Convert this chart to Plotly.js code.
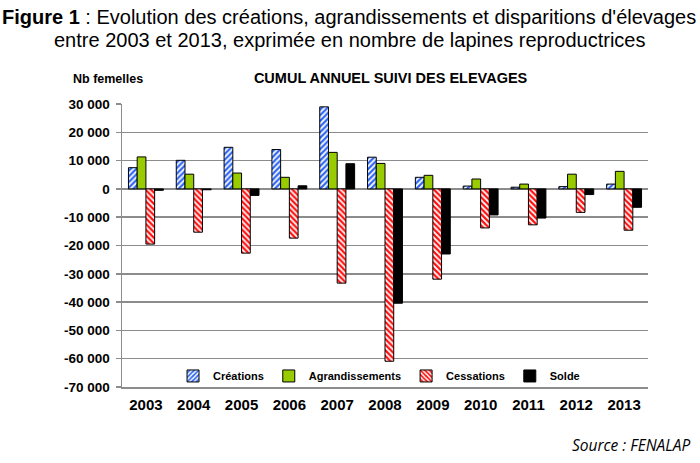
<!DOCTYPE html>
<html>
<head>
<meta charset="utf-8">
<script src="https://cdn.plot.ly/plotly-3.0.1.min.js"></script>
<style>
  html, body { margin: 0; padding: 0; background: #ffffff; }
  #chart { width: 700px; height: 463px; }
</style>
</head>
<body>
<div id="chart"></div>
<script>
// ---- Data ----
const years = ['2003', '2004', '2005', '2006', '2007', '2008', '2009', '2010', '2011', '2012', '2013'];
const creations        = [7500, 10100, 14700, 13900, 29000, 11200, 4100, 1000, 600, 800, 1700];
const agrandissements  = [11300, 5200, 5600, 4100, 12900, 9000, 4800, 3500, 1700, 5200, 6200];
const cessations       = [-19500, -15300, -22700, -17400, -33300, -60900, -31900, -13800, -12700, -8300, -14600];
const solde            = [-500, -300, -2300, 1100, 8900, -40400, -23000, -9200, -10300, -2000, -6500];

const seriesNames = ['Créations', 'Agrandissements', 'Cessations', 'Solde'];
const yTickVals  = [30000, 20000, 10000, 0, -10000, -20000, -30000, -40000, -50000, -60000, -70000];
const yTickText  = ['30 000', '20 000', '10 000', '0', '-10 000', '-20 000', '-30 000', '-40 000', '-50 000', '-60 000', '-70 000'];

const titleLine1 = '<b>Figure 1</b> : Evolution des créations, agrandissements et disparitions d\'élevages';
const titleLine2 = 'entre 2003 et 2013, exprimée en nombre de lapines reproductrices';
const chartTitle = 'CUMUL ANNUEL SUIVI DES ELEVAGES';
const yLabel = 'Nb femelles';
const sourceText = 'Source : FENALAP';

const FONT = 'Liberation Sans, Arial, Helvetica, sans-serif';
const outline = { color: '#000000', width: 1 };

const traces = [
  {
    type: 'bar', name: seriesNames[0], x: years, y: creations,
    marker: { color: '#ffffff', line: outline,
      pattern: { shape: '/', fgcolor: '#2f66f2', bgcolor: '#ffffff', size: 4, solidity: 0.55 } }
  },
  {
    type: 'bar', name: seriesNames[1], x: years, y: agrandissements,
    marker: { color: '#99cc00', line: outline }
  },
  {
    type: 'bar', name: seriesNames[2], x: years, y: cessations,
    marker: { color: '#ffffff', line: outline,
      pattern: { shape: '\\', fgcolor: '#ff0f0f', bgcolor: '#ffffff', size: 4, solidity: 0.55 } }
  },
  {
    type: 'bar', name: seriesNames[3], x: years, y: solde,
    marker: { color: '#000000', line: outline }
  }
];

const layout = {
  width: 700, height: 463,
  margin: { l: 122, r: 52, t: 104, b: 76 },
  paper_bgcolor: '#ffffff', plot_bgcolor: '#ffffff',
  font: { family: FONT, color: '#000000' },
  barmode: 'group', bargap: 0.27, bargroupgap: 0,
  showlegend: true,
  legend: {
    orientation: 'h', x: 0.097, xanchor: 'left', y: 0.039, yanchor: 'middle',
    bgcolor: 'rgba(0,0,0,0)', font: { family: FONT, size: 11, color: '#000', weight: 'bold' },
    traceorder: 'normal'
  },
  title: { text: '<b>' + chartTitle + '</b>', x: 0.558, xanchor: 'center', y: 1 - 78 / 463, yanchor: 'middle',
           font: { family: FONT, size: 14.5, color: '#000' } },
  xaxis: {
    type: 'category', showgrid: false, showline: true, linecolor: '#8c8c8c', linewidth: 1.5,
    ticks: '', tickfont: { family: FONT, size: 15, color: '#000', weight: 'bold' },
    ticklabelstandoff: 3, zeroline: false
  },
  yaxis: {
    range: [-70000, 30000], tickvals: yTickVals, ticktext: yTickText,
    showgrid: true, gridcolor: '#8c8c8c', gridwidth: 1.5,
    zeroline: true, zerolinecolor: '#8c8c8c', zerolinewidth: 1.5,
    showline: true, linecolor: '#8c8c8c', linewidth: 1.5,
    ticks: 'outside', ticklen: 5, tickcolor: '#8c8c8c', tickwidth: 1.5,
    tickfont: { family: FONT, size: 13.5, color: '#000', weight: 'bold' },
    ticklabelstandoff: 3
  },
  annotations: [
    { text: titleLine1, xref: 'paper', yref: 'paper', x: (349 - 122) / 526, y: (387 - 17) / 283,
      xanchor: 'center', yanchor: 'middle', showarrow: false, font: { family: FONT, size: 20, color: '#000' } },
    { text: titleLine2, xref: 'paper', yref: 'paper', x: (349 - 122) / 526, y: (387 - 40) / 283,
      xanchor: 'center', yanchor: 'middle', showarrow: false, font: { family: FONT, size: 20, color: '#000' } },
    { text: '<b>' + yLabel + '</b>', xref: 'paper', yref: 'paper', x: (108 - 122) / 526, y: (387 - 79) / 283,
      xanchor: 'center', yanchor: 'middle', showarrow: false, font: { family: FONT, size: 12.5, color: '#000' } },
    { text: '<i>' + sourceText + '</i>', xref: 'paper', yref: 'paper', x: (692 - 122) / 526, y: (387 - 445) / 283,
      xanchor: 'right', yanchor: 'middle', showarrow: false, font: { family: 'Open Sans, Noto Sans, sans-serif', size: 15.5, color: '#000' } }
  ]
};

Plotly.newPlot('chart', traces, layout, { displayModeBar: false, staticPlot: true });
</script>
</body>
</html>
